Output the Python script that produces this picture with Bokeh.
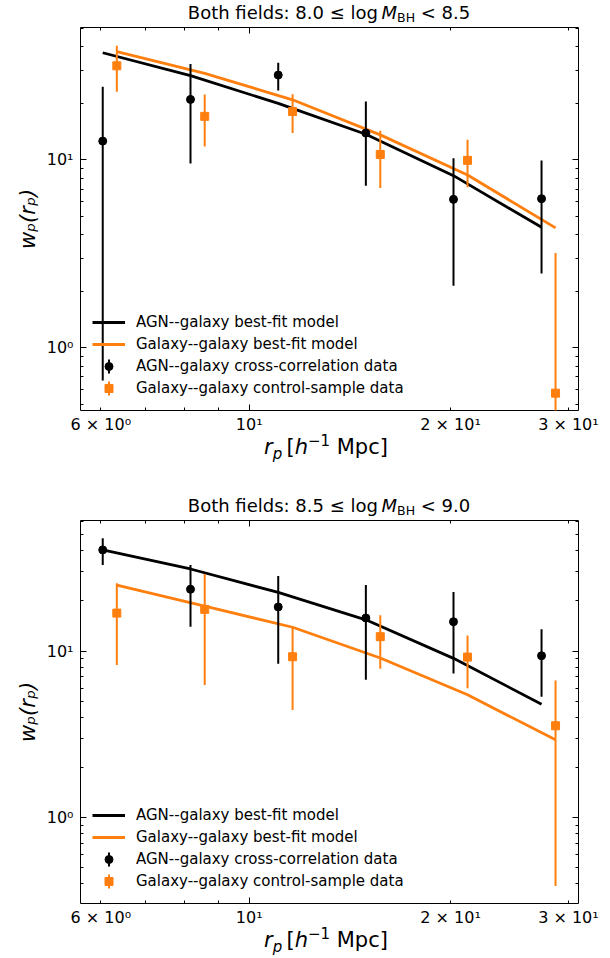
from bokeh.plotting import figure
from bokeh.models import (LogAxis, FixedTicker, Legend, LegendItem, BoxAnnotation,
                          ColumnDataSource, Range1d, Div)
from bokeh.layouts import column
from bokeh.embed import file_html
from bokeh.resources import INLINE

ORANGE = "#ff7f0e"
FONT = "DejaVu Sans"

# ---------------- data ----------------
agn_rp = [6.04, 8.17, 11.05, 14.94, 20.2, 27.35]
gal_rp = [6.34, 8.58, 11.61, 15.70, 21.2, 28.7]

# panel 1 : 8.0 <= log M_BH < 8.5
p1_agn_w = [12.6, 21.0, 28.3, 13.9, 6.17, 6.22]
p1_agn_lo = [0.67, 9.59, 23.4, 7.3, 2.14, 2.49]
p1_agn_hi = [24.5, 32.4, 32.9, 20.5, 10.2, 9.92]
p1_gal_w = [31.7, 17.06, 18.1, 10.7, 9.95, 0.574]
p1_gal_lo = [23.1, 11.8, 13.9, 7.1, 7.15, 0.3]
p1_gal_hi = [40.5, 22.3, 22.4, 14.3, 12.8, 3.2]
p1_agn_model = [37.2, 28.1, 20.0, 13.7, 8.25, 4.38]
p1_gal_model = [37.7, 28.9, 20.9, 13.6, 8.32, 4.35]

# panel 2 : 8.5 <= log M_BH < 9.0
p2_agn_w = [40.5, 23.5, 18.4, 15.8, 15.0, 9.37]
p2_agn_lo = [32.9, 14.0, 8.39, 6.72, 7.34, 5.31]
p2_agn_hi = [47.6, 32.9, 28.2, 24.9, 22.6, 13.5]
p2_gal_w = [16.9, 17.8, 9.24, 12.2, 9.2, 3.56]
p2_gal_lo = [8.24, 6.25, 4.42, 7.83, 5.97, 0.388]
p2_gal_hi = [25.5, 29.0, 13.9, 16.4, 12.4, 6.66]
p2_agn_model = [40.5, 31.1, 22.5, 15.4, 9.04, 4.8]
p2_gal_model = [24.9, 18.6, 13.9, 9.08, 5.46, 2.93]

titles_lo = ["8.0", "8.5"]
titles_hi = ["8.5", "9.0"]

x_range = (5.595, 31.06)
y_ranges = [(0.464, 50.7), (0.305, 60.8)]

x_major = [10]
x_minor = [6, 7, 8, 9, 20, 30]
x_lab_ticks = [6, 10, 20, 30]
x_lab_text = ["6 × 10⁰", "10¹", "2 × 10¹", "3 × 10¹"]
y_major = [1, 10]
y_lab_text = ["10⁰", "10¹"]
y_minor = [0.2, 0.3, 0.4, 0.5, 0.6, 0.7, 0.8, 0.9,
           2, 3, 4, 5, 6, 7, 8, 9, 20, 30, 40, 50, 60, 70, 80, 90]

legend_labels = ["AGN--galaxy best-fit model", "Galaxy--galaxy best-fit model",
                 "AGN--galaxy cross-correlation data", "Galaxy--galaxy control-sample data"]

FW, FH = 498, 383
BL, BR = 80, 30
TOTAL_W = BL + FW + BR


def title_div(lo, hi):
    html = (f'<div style="font-family:\'{FONT}\';font-size:18px;line-height:26px;height:26px;'
            f'white-space:nowrap;text-align:center;width:{FW}px;margin-left:{BL}px;color:#000">'
            f'Both fields: {lo} ≤ log&thinsp;<i>M</i>'
            f'<span style="position:relative;top:3px;font-size:12.5px">BH</span>'
            f' &lt; {hi}</div>')
    return Div(text=html, width=TOTAL_W, height=26, margin=0)


def xlabel_div(h):
    html = (f'<div style="font-family:\'{FONT}\';font-size:21px;line-height:23px;height:23px;'
            f'white-space:nowrap;text-align:center;width:{FW}px;margin-left:{BL - 3}px;color:#000">'
            f'<i>r</i><span style="position:relative;top:5px;font-size:15px;font-style:italic">p</span>'
            f'&thinsp;[<i>h</i>'
            f'<span style="position:relative;top:-8px;font-size:15px">−1</span> Mpc]</div>')
    return Div(text=html, width=TOTAL_W, height=h, margin=0)


def tick_axis(ticks, minor):
    return LogAxis(ticker=FixedTicker(ticks=ticks, minor_ticks=minor),
                   axis_line_color=None,
                   major_tick_in=6, major_tick_out=0, minor_tick_in=3, minor_tick_out=0,
                   major_tick_line_color="black", minor_tick_line_color="black",
                   major_tick_line_width=1, minor_tick_line_width=1,
                   major_label_text_font_size="0px", major_label_text_color=None,
                   major_label_standoff=0)


def make_panel(idx, agn_w, agn_lo, agn_hi, gal_w, gal_lo, gal_hi, agn_model, gal_model):
    p = figure(frame_width=FW, frame_height=FH, x_axis_type="log", y_axis_type="log",
               x_axis_location=None, y_axis_location=None, title=None,
               x_range=Range1d(*x_range), y_range=Range1d(*y_ranges[idx]),
               min_border_left=BL, min_border_right=BR, min_border_top=1,
               min_border_bottom=26,
               toolbar_location=None, output_backend="svg")
    p.grid.visible = False
    p.outline_line_color = "black"
    p.outline_line_width = 1
    p.outline_line_alpha = 1
    p.background_fill_color = "white"
    p.border_fill_color = "white"

    # axes
    p.add_layout(tick_axis(x_major, x_minor), "below")
    xl = LogAxis(ticker=FixedTicker(ticks=x_lab_ticks, minor_ticks=[]),
                 axis_line_color=None, major_tick_line_color=None, minor_tick_line_color=None,
                 major_tick_in=0, major_tick_out=0, minor_tick_in=0, minor_tick_out=0,
                 major_label_overrides=dict(zip(x_lab_ticks, x_lab_text)),
                 major_label_text_font=FONT, major_label_text_font_size="16px",
                 major_label_text_color="black", major_label_standoff=4)
    p.add_layout(xl, "below")
    p.add_layout(tick_axis(x_major, x_minor), "above")
    yl = LogAxis(ticker=FixedTicker(ticks=y_major, minor_ticks=y_minor),
                 axis_line_color=None,
                 major_tick_in=6, major_tick_out=0, minor_tick_in=3, minor_tick_out=0,
                 major_tick_line_color="black", minor_tick_line_color="black",
                 major_label_overrides=dict(zip(y_major, y_lab_text)),
                 major_label_text_font=FONT, major_label_text_font_size="16px",
                 major_label_text_color="black", major_label_standoff=7,
                 axis_label="wₚ(rₚ)", axis_label_text_font=FONT,
                 axis_label_text_font_size="21px", axis_label_text_font_style="italic",
                 axis_label_text_color="black", axis_label_standoff=4)
    p.add_layout(yl, "left")
    p.add_layout(tick_axis(y_major, y_minor), "right")

    # model lines
    l_agn = p.line(agn_rp, agn_model, line_color="black", line_width=2.8)
    l_gal = p.line(gal_rp, gal_model, line_color=ORANGE, line_width=2.8)

    # data with error bars
    sa = ColumnDataSource(dict(x=agn_rp, y=agn_w, lo=agn_lo, hi=agn_hi))
    sg = ColumnDataSource(dict(x=gal_rp, y=gal_w, lo=gal_lo, hi=gal_hi))
    p.segment(x0="x", y0="lo", x1="x", y1="hi", source=sa, line_color="black", line_width=2)
    m_agn = p.scatter("x", "y", source=sa, marker="circle", size=8,
                      fill_color="black", line_color="black")
    p.segment(x0="x", y0="lo", x1="x", y1="hi", source=sg, line_color=ORANGE, line_width=2)
    m_gal = p.scatter("x", "y", source=sg, marker="square", size=8,
                      fill_color=ORANGE, line_color=ORANGE)

    # vertical error-bar strokes of the two data legend entries
    for k, col in ((1, "black"), (0, ORANGE)):
        cy = 12 + 10 + 22 * k
        p.add_layout(BoxAnnotation(left=27.5, right=29.5, bottom=cy - 7, top=cy + 7,
                                   left_units="screen", right_units="screen",
                                   bottom_units="screen", top_units="screen",
                                   fill_color=col, fill_alpha=1, line_color=None))

    legend = Legend(items=[LegendItem(label=legend_labels[0], renderers=[l_agn]),
                           LegendItem(label=legend_labels[1], renderers=[l_gal]),
                           LegendItem(label=legend_labels[2], renderers=[m_agn]),
                           LegendItem(label=legend_labels[3], renderers=[m_gal])],
                    location="bottom_left", margin=12, padding=0, spacing=2,
                    glyph_height=20, glyph_width=33, label_height=20, label_standoff=11,
                    label_text_font=FONT, label_text_font_size="15px",
                    label_text_color="black",
                    background_fill_alpha=0, border_line_color=None)
    p.add_layout(legend)
    return p


p1 = make_panel(0, p1_agn_w, p1_agn_lo, p1_agn_hi, p1_gal_w, p1_gal_lo, p1_gal_hi,
                p1_agn_model, p1_gal_model)
p2 = make_panel(1, p2_agn_w, p2_agn_lo, p2_agn_hi, p2_gal_w, p2_gal_lo, p2_gal_hi,
                p2_agn_model, p2_gal_model)

layout = column(title_div(titles_lo[0], titles_hi[0]), p1, xlabel_div(57),
                title_div(titles_lo[1], titles_hi[1]), p2, xlabel_div(27))
open("out.html", "w").write(file_html(layout, INLINE))
